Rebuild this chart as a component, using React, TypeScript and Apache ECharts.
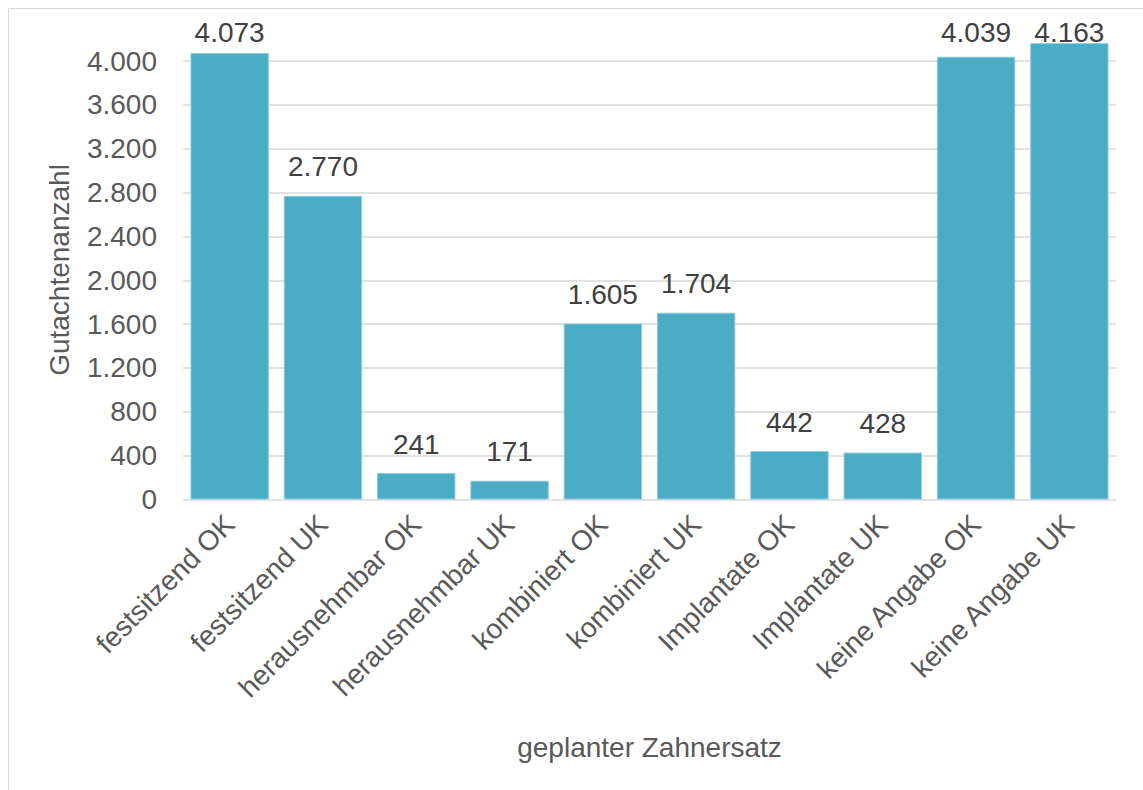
import React, { useEffect, useRef } from "react";
import * as echarts from "echarts";

const categories = [
  "festsitzend OK",
  "festsitzend UK",
  "herausnehmbar OK",
  "herausnehmbar UK",
  "kombiniert OK",
  "kombiniert UK",
  "Implantate OK",
  "Implantate UK",
  "keine Angabe OK",
  "keine Angabe UK",
];
const values = [4073, 2770, 241, 171, 1605, 1704, 442, 428, 4039, 4163];
const yAxisTitle = "Gutachtenanzahl";
const xAxisTitle = "geplanter Zahnersatz";

const fmt = (v: number) =>
  String(Math.round(v)).replace(/\B(?=(\d{3})+(?!\d))/g, ".");

export default function App() {
  const ref = useRef<HTMLDivElement>(null);
  useEffect(() => {
    if (!ref.current) return;
    const chart = echarts.init(ref.current, undefined, { renderer: "svg" });
    const font = "Liberation Sans, Arial, sans-serif";
    chart.setOption({
      animation: false,
      backgroundColor: "#ffffff",
      textStyle: { fontFamily: font },
      graphic: [
        {
          type: "rect",
          shape: { x: 8.5, y: 8.5, width: 1200, height: 900 },
          style: { fill: "none", stroke: "#d9d9d9", lineWidth: 1 },
          silent: true,
        },
        {
          type: "text",
          x: 59,
          y: 270,
          rotation: Math.PI / 2,
          style: {
            text: yAxisTitle,
            fontSize: 28,
            fill: "#595959",
            fontFamily: font,
            align: "center",
            verticalAlign: "middle",
          },
          silent: true,
        },
      ],
      grid: { left: 183, right: 27, top: 61, bottom: 290.5, containLabel: false },
      xAxis: {
        type: "category",
        data: categories,
        axisLine: { show: false },
        axisTick: { show: false },
        axisLabel: {
          rotate: 45,
          interval: 0,
          margin: 20,
          fontSize: 28,
          color: "#595959",
          fontFamily: font,
        },
        name: xAxisTitle,
        nameLocation: "middle",
        nameGap: 234,
        nameTextStyle: { fontSize: 28, color: "#595959", fontFamily: font },
      },
      yAxis: {
        type: "value",
        min: 0,
        max: 4000,
        interval: 400,
        axisLine: { show: false },
        axisTick: { show: false },
        splitLine: { lineStyle: { color: "#d9d9d9", width: 1.5 } },
        axisLabel: {
          fontSize: 28,
          color: "#595959",
          margin: 26,
          fontFamily: font,
          formatter: (v: number) => fmt(v),
        },
      },
      series: [
        {
          type: "bar",
          data: values,
          clip: false,
          barCategoryGap: "16%",
          itemStyle: { color: "#4bacc6", borderColor: "#8fcbdb", borderWidth: 1 },
          label: {
            show: true,
            position: "top",
            distance: 15,
            fontSize: 28,
            color: "#404040",
            fontFamily: font,
            formatter: (p: any) => fmt(p.value),
          },
          labelLayout: (p: any) => ({
            dy: Math.max(0, 18 - p.labelRect.y),
          }),
        },
      ],
    });
    return () => chart.dispose();
  }, []);
  return (
    <div
      ref={ref}
      style={{ position: "fixed", left: 0, top: 0, width: 1143, height: 790 }}
    />
  );
}
